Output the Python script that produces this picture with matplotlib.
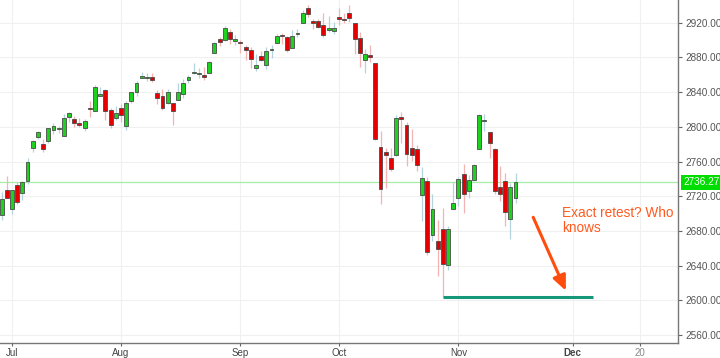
import numpy as np
import pandas as pd
import matplotlib
matplotlib.use("Agg")
import matplotlib.pyplot as plt

plt.rcParams['font.family'] = ['Liberation Sans', 'DejaVu Sans']

# daily candles
dates = ['2018-06-27', '2018-06-28', '2018-06-29',
         '2018-07-02', '2018-07-03', '2018-07-05', '2018-07-06', '2018-07-09', '2018-07-10',
         '2018-07-11', '2018-07-12', '2018-07-13', '2018-07-16', '2018-07-17', '2018-07-18',
         '2018-07-19', '2018-07-20', '2018-07-23', '2018-07-24', '2018-07-25', '2018-07-26',
         '2018-07-27', '2018-07-30', '2018-07-31',
         '2018-08-01', '2018-08-02', '2018-08-03', '2018-08-06', '2018-08-07', '2018-08-08',
         '2018-08-09', '2018-08-10', '2018-08-13', '2018-08-14', '2018-08-15', '2018-08-16',
         '2018-08-17', '2018-08-20', '2018-08-21', '2018-08-22', '2018-08-23', '2018-08-24',
         '2018-08-27', '2018-08-28', '2018-08-29', '2018-08-30', '2018-08-31',
         '2018-09-04', '2018-09-05', '2018-09-06', '2018-09-07', '2018-09-10', '2018-09-11',
         '2018-09-12', '2018-09-13', '2018-09-14', '2018-09-17', '2018-09-18', '2018-09-19',
         '2018-09-20', '2018-09-21', '2018-09-24', '2018-09-25', '2018-09-26', '2018-09-27',
         '2018-09-28',
         '2018-10-01', '2018-10-02', '2018-10-03', '2018-10-04', '2018-10-05', '2018-10-08',
         '2018-10-09', '2018-10-10', '2018-10-11', '2018-10-12', '2018-10-15', '2018-10-16',
         '2018-10-17', '2018-10-18', '2018-10-19', '2018-10-22', '2018-10-23', '2018-10-24',
         '2018-10-25', '2018-10-26', '2018-10-29', '2018-10-30', '2018-10-31',
         '2018-11-01', '2018-11-02', '2018-11-05', '2018-11-06', '2018-11-07', '2018-11-08',
         '2018-11-09', '2018-11-12', '2018-11-13', '2018-11-14', '2018-11-15', '2018-11-16']

opens = [2728.4, 2698.7, 2727.1,
         2705.0, 2733.3, 2724.2, 2737.7, 2775.6, 2788.6, 2779.8, 2783.1, 2796.9, 2797.4,
         2789.3, 2811.4, 2809.4, 2804.6, 2799.2, 2820.7, 2817.7, 2835.5, 2842.4, 2819.0, 2809.7,
         2821.2, 2800.5, 2829.6, 2840.3, 2855.9, 2856.8, 2857.2, 2838.9, 2835.5, 2827.9,
         2828.0, 2831.4, 2838.3, 2853.9, 2861.5, 2861.0, 2860.3, 2862.4, 2884.7, 2901.5,
         2900.6, 2908.9, 2898.4,
         2897.0, 2891.6, 2888.6, 2868.3, 2881.4, 2871.6, 2888.3, 2896.9, 2906.4, 2903.8,
         2890.7, 2906.6, 2919.7, 2936.8, 2921.8, 2921.8, 2917.0, 2911.7, 2910.0,
         2926.3, 2923.8, 2931.7, 2919.4, 2902.5, 2877.5, 2882.5, 2873.9, 2776.9, 2770.5,
         2763.8, 2767.1, 2811.7, 2802.0, 2775.7, 2773.9, 2721.0, 2737.9, 2674.9, 2667.9,
         2682.7, 2640.7, 2705.6,
         2717.6, 2745.5, 2726.4, 2738.4, 2774.1, 2806.4, 2794.1, 2773.9, 2730.1, 2737.9,
         2693.5, 2718.5]

highs = [2746.1, 2724.3, 2743.3,
         2727.3, 2736.6, 2737.8, 2764.4, 2784.7, 2795.6, 2785.9, 2799.2, 2804.5, 2801.2,
         2814.2, 2816.8, 2812.1, 2809.7, 2808.6, 2830.0, 2848.0, 2845.6, 2843.2, 2821.7, 2824.5,
         2825.8, 2829.9, 2840.4, 2853.3, 2863.4, 2862.4, 2862.5, 2842.2, 2843.4, 2843.1,
         2828.0, 2850.5, 2855.6, 2859.8, 2873.2, 2867.5, 2868.8, 2876.2, 2898.3, 2903.8,
         2916.5, 2912.5, 2906.3,
         2900.2, 2894.2, 2892.1, 2883.8, 2886.9, 2892.5, 2894.7, 2906.8, 2908.3, 2904.7,
         2911.2, 2912.4, 2934.8, 2940.9, 2923.8, 2924.0, 2931.2, 2927.2, 2920.5,
         2937.1, 2931.4, 2939.9, 2919.8, 2909.6, 2889.5, 2894.8, 2874.0, 2795.1, 2775.8,
         2776.0, 2813.5, 2816.9, 2806.0, 2797.8, 2778.9, 2753.6, 2742.6, 2722.7, 2692.4,
         2706.9, 2685.4, 2736.7,
         2741.7, 2756.6, 2744.3, 2756.8, 2815.2, 2814.8, 2794.1, 2776.0, 2754.6, 2746.8,
         2735.4, 2746.8]

lows = [2699.4, 2692.0, 2718.0,
        2699.0, 2711.2, 2716.0, 2733.5, 2770.7, 2786.2, 2770.8, 2781.5, 2791.7, 2793.4,
        2789.2, 2805.9, 2799.8, 2800.0, 2795.1, 2811.1, 2817.7, 2835.3, 2808.3, 2798.1, 2808.1,
        2805.9, 2796.3, 2827.4, 2836.0, 2855.9, 2853.1, 2852.0, 2825.8, 2819.9, 2826.6,
        2802.5, 2831.4, 2833.7, 2850.6, 2861.3, 2856.1, 2854.0, 2862.4, 2884.7, 2893.5,
        2898.4, 2895.2, 2893.8,
        2885.1, 2876.9, 2867.3, 2864.1, 2875.9, 2866.8, 2879.2, 2896.4, 2895.8, 2886.2,
        2890.4, 2903.8, 2919.7, 2927.1, 2912.6, 2913.7, 2903.3, 2909.3, 2907.5,
        2917.9, 2919.4, 2921.4, 2883.9, 2869.3, 2862.1, 2874.3, 2784.9, 2710.5, 2729.4,
        2749.0, 2766.9, 2781.8, 2755.2, 2760.3, 2749.2, 2691.4, 2651.9, 2667.8, 2628.2,
        2603.5, 2635.3, 2705.6,
        2708.9, 2700.4, 2717.9, 2737.1, 2774.1, 2795.0, 2764.2, 2722.0, 2715.0, 2685.8,
        2670.8, 2712.2]

closes = [2699.6, 2716.3, 2718.4,
          2726.7, 2713.2, 2736.6, 2759.8, 2784.2, 2793.8, 2774.0, 2798.3, 2801.3, 2798.4,
          2809.6, 2815.6, 2804.5, 2801.8, 2807.0, 2820.4, 2846.1, 2837.4, 2818.8, 2802.6, 2816.3,
          2813.4, 2827.2, 2840.4, 2850.4, 2858.5, 2857.7, 2853.6, 2833.3, 2821.9, 2840.0,
          2818.4, 2840.7, 2850.1, 2857.1, 2863.0, 2861.8, 2857.0, 2874.7, 2896.7, 2897.5,
          2914.0, 2901.1, 2901.5,
          2896.7, 2888.6, 2878.1, 2871.7, 2877.1, 2887.9, 2888.9, 2904.2, 2905.0, 2888.8,
          2904.3, 2908.0, 2930.8, 2929.7, 2919.4, 2915.6, 2906.0, 2914.0, 2914.0,
          2924.6, 2923.4, 2925.5, 2901.6, 2885.6, 2884.4, 2880.3, 2785.7, 2728.4, 2767.1,
          2750.8, 2809.9, 2809.2, 2768.8, 2767.8, 2755.9, 2740.7, 2656.1, 2705.6, 2658.7,
          2641.3, 2682.6, 2711.7,
          2740.4, 2723.1, 2738.3, 2755.5, 2813.9, 2806.8, 2781.0, 2726.2, 2722.2, 2701.6,
          2730.2, 2736.3]

last_price = 2736.27
support_level = 2603.54
support_dates = ['2018-10-29', '2018-12-07']

tick_dates = ['2018-07-02', '2018-08-01', '2018-09-04', '2018-10-01',
              '2018-11-01', '2018-12-03', '2018-12-20']
tick_labels = ['Jul', 'Aug', 'Sep', 'Oct', 'Nov', 'Dec', '20']
y_ticks = np.arange(2560, 2921, 40)

# trading-day axis (weekdays without market holidays, future days included)
cal = pd.bdate_range('2018-06-27', '2018-12-31').drop(pd.to_datetime(['2018-07-04', '2018-09-03']))
pos = {d: i for i, d in enumerate(cal)}
origin = pos[pd.Timestamp('2018-07-02')]


def xpos(ds):
    return np.array([pos[pd.Timestamp(d)] - origin for d in ds], dtype=float)


x = xpos(dates)
o = np.array(opens)
h = np.array(highs)
l = np.array(lows)
c = np.array(closes)
up = c >= o

green, red = '#1fd11f', '#e40000'
wick_up, wick_dn = '#b4d3dc', '#f5b4b4'

fig = plt.figure(figsize=(7.2, 3.58), dpi=100)
ax = fig.add_axes([0, 0.0427, 0.9417, 0.9573])

ax.grid(True, color='#f0f0f0', lw=0.8, zorder=0)
ax.set_axisbelow(True)

ax.axhline(last_price, color='#a6eea6', lw=0.9, zorder=1)

ax.vlines(x, l, h, colors=np.where(up, wick_up, wick_dn), lw=0.9, zorder=2)
body_lo = np.minimum(o, c)
body_h = np.maximum(np.abs(c - o), 1.0)
ax.bar(x, body_h, bottom=body_lo, width=0.75, color=np.where(up, green, red),
       edgecolor='#4a4a4a', linewidth=0.6, zorder=3)

sx = xpos(support_dates)
ax.hlines(support_level, sx[0], sx[1], color='#17977a', lw=2.2, zorder=4)

ax.text(105.9, 2709, 'Exact retest? Who\nknows', color='#ff5a1e', fontsize=9.8,
        va='top', ha='left', linespacing=1.1)
ax.annotate('', xy=(106.7, 2611), xytext=(100.4, 2695.7),
            arrowprops=dict(arrowstyle='-|>,head_width=0.4,head_length=0.9',
                            color='#ff4d0d', lw=2.2, shrinkA=0, shrinkB=0))

ax.set_xlim(-2.3, 128.3)
ax.set_ylim(2551.1, 2946.2)

ax.yaxis.tick_right()
ax.set_yticks(y_ticks)
ax.set_yticklabels(['%.2f' % v for v in y_ticks])
ax.tick_params(axis='y', colors='#666666', labelcolor='#555555', labelsize=7.2, length=3, pad=2)

ax.set_xticks(xpos(tick_dates))
ax.set_xticklabels(tick_labels)
ax.tick_params(axis='x', colors='#666666', labelcolor='#444444', labelsize=7, length=2.5, pad=1)
xl = ax.get_xticklabels()
xl[-2].set_fontweight('bold')
xl[-1].set_color('#888888')

for s in ['left', 'top']:
    ax.spines[s].set_visible(False)
for s in ['right', 'bottom']:
    ax.spines[s].set_color('#777777')
    ax.spines[s].set_linewidth(1.0)

ax.annotate('%.2f' % last_price, xy=(1.0, last_price), xycoords=('axes fraction', 'data'),
            xytext=(4, 0), textcoords='offset points', va='center', ha='left',
            color='white', fontsize=7.2,
            bbox=dict(boxstyle='square,pad=0.25', fc='#00dd00', ec='none'))

fig.savefig('out.png', dpi=100)
